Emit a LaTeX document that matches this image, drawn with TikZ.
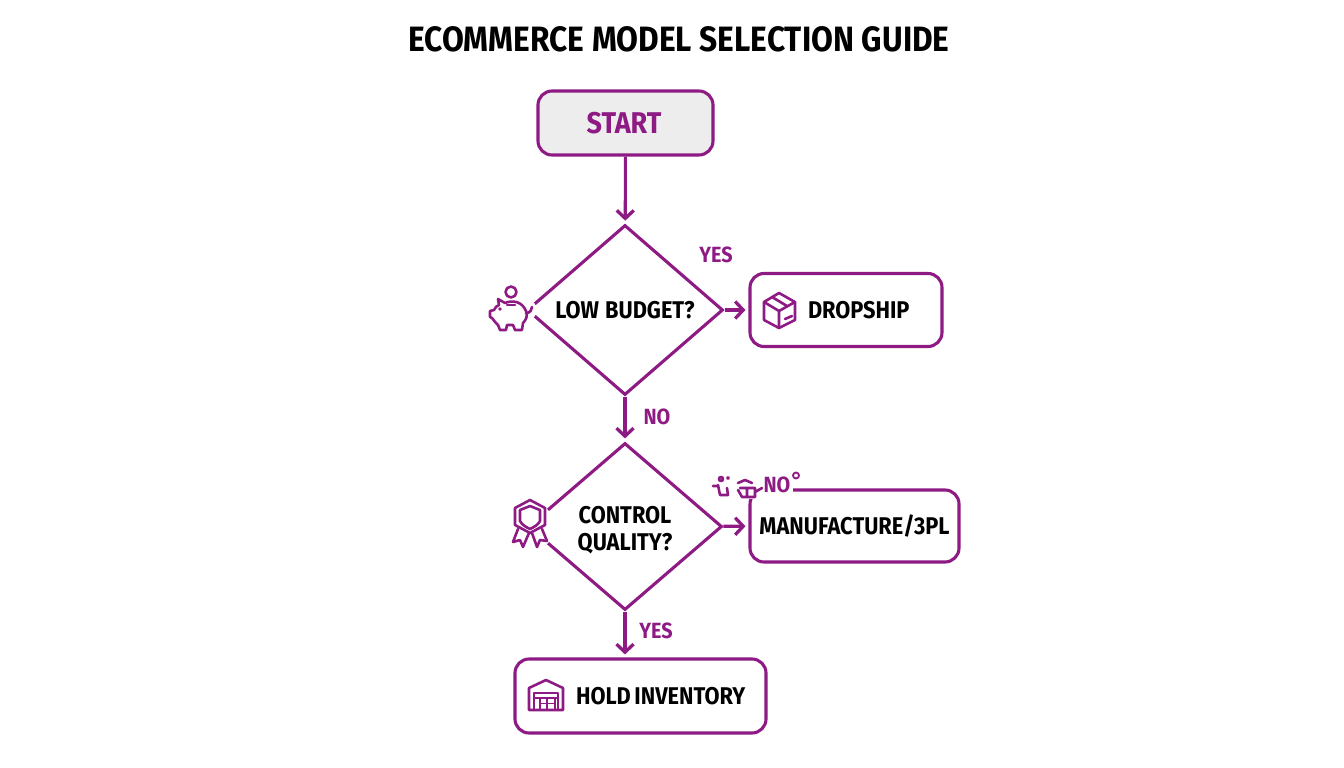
\documentclass[tikz,border=0pt]{standalone}
\usepackage{fontspec}
\usepackage{tikz}
\usetikzlibrary{positioning, calc}
\usetikzlibrary{shapes.geometric, arrows.meta}
\setmainfont[FakeStretch=0.9, WordSpace=0.7]{Fira Sans}
\definecolor{guidepurple}{HTML}{8E1A84}
\definecolor{startgray}{HTML}{EEEDEE}
\tikzset{
  boxnode/.style={draw=guidepurple, line width=3.1pt, rounded corners=14pt, inner sep=0pt, font=\labelfont, text=black},
  choicenode/.style={draw=guidepurple, diamond, aspect=1.15, line width=3.1pt, inner sep=0pt, font=\labelfont, text=black, align=center},
  flowarrow/.style={draw=guidepurple, line width=3.1pt, -{Straight Barb[length=8pt,width=17pt,line width=3.3pt]}, shorten >=3pt},
  answer/.style={text=guidepurple, font=\answerfont},
  iconline/.style={draw=guidepurple, line width=2.6pt, line join=round, line cap=round}
}
\newcommand{\labelfont}{\fontsize{24.2}{27}\selectfont\bfseries}
\newcommand{\answerfont}{\fontsize{22}{26}\selectfont\bfseries}
\begin{document}
\begin{tikzpicture}[x=1pt, y=-1pt]
    \useasboundingbox (0,0) rectangle (1344,768);
    \node (title) at (679,39) {\fontsize{35.2}{40}\selectfont\bfseries ECOMMERCE\hspace{2.5pt} MODEL\hspace{2.5pt} SELECTION\hspace{2.5pt} GUIDE};
    % boxes and decisions
    \node[boxnode, fill=startgray, text=guidepurple, minimum width=175pt, minimum height=64pt, font=\fontsize{30}{36}\selectfont\bfseries] (start) at (625.5,123) {\hspace*{-3pt}START};
    \node[choicenode, minimum width=196pt, minimum height=170pt] (lowbudget) at (625,310) {LOW\hspace{2.5pt} BUDGET?};
    \node[boxnode, minimum width=192pt, minimum height=73pt, text width=192pt, align=left] (dropship) at (846,310) {\hspace*{58pt}DROPSHIP};
    \node[choicenode, minimum width=194pt, minimum height=167pt] (quality) at (625,526.5) {\rule{0pt}{24pt}CONTROL\\QUALITY?};
    \node[boxnode, minimum width=209pt, minimum height=72pt] (manufacture) at (854.5,526) {MANUFACTURE/3PL};
    \node[boxnode, minimum width=251pt, minimum height=74pt, text width=251pt, align=left] (inventory) at (640.5,696) {\hspace*{61pt}\mbox{HOLD\hspace{-4.5pt} INVENTORY}};
    % connectors
    \draw[flowarrow] (start) -- (lowbudget);
    \draw[flowarrow] (lowbudget) -- (dropship);
    \draw[flowarrow] (lowbudget) -- (quality);
    \draw[flowarrow] (quality) -- (manufacture);
    \draw[flowarrow] (quality.south) -- (quality.south |- inventory.north);
    % gaps for the icons
    \fill[white] (527,310) circle (10pt);
    \fill[white] (528,526.5) circle (26pt);
    \fill[white] (744,484) rectangle (793,499);
    \node[answer] (yesa) at (716,255) {YES};
    \node[answer] (noa) at (657,417) {NO};
    \node[answer] (nob) at (777,485) {NO};
    \node[answer] (yesb) at (656,631) {YES};
    % piggy bank
    \draw[iconline] (511,292) circle (5.5pt);
    \draw[iconline] (498,299) -- (505,303) .. controls (512,300) and (522,301) .. (526,311) .. controls (528,316) and (526,320) .. (523,323) -- (522,330) -- (515,330) -- (513,325) -- (507,325) -- (506,330) -- (500,330) -- (498,325) .. controls (495,323) and (494,320) .. (492,318) -- (490,317) -- (490,311) -- (494,310) .. controls (495,307) and (497,306) .. (499,305) -- cycle;
    \draw[iconline] (526,313) .. controls (530,313) and (532,310) .. (532,307);
    \draw[iconline] (507,305) -- (515,305);
    \fill[guidepurple] (500,309) circle (1.8pt);
    % parcel
    \draw[iconline] (779,293) -- (795,302) -- (795,320) -- (779,328) -- (764,320) -- (764,302) -- cycle;
    \draw[iconline] (764,302) -- (779,311) -- (795,302) (779,311) -- (779,328);
    \draw[iconline] (772,297) -- (787,306) (785,319) -- (792,316);
    % medal
    \draw[iconline] (530,500) -- (545,508) -- (545,525) -- (530,533) -- (515,525) -- (515,508) -- cycle;
    \draw[iconline] (530,506) -- (540,510) -- (540,521) .. controls (538,525) and (534,527) .. (530,529) .. controls (526,527) and (522,525) .. (520,521) -- (520,510) -- cycle;
    \draw[iconline] (518,529) -- (513,542) -- (520,540) -- (523,547) -- (529,533);
    \draw[iconline] (542,529) -- (547,541) -- (540,540) -- (537,547) -- (532,533);
    % drone
    \draw[iconline] (713,486) -- (717,486) (718,485) -- (720,495) -- (728,495) -- (727,488);
    \draw[iconline] (721,479) circle (2pt) (728,478) circle (.8pt);
    \draw[iconline] (738,483) -- (745,480) -- (752,483) (740,488) -- (755,488) -- (755,497) -- (742,497) -- (738,490) (747,488) -- (747,496) (755,492) -- (762,488);
    \draw[iconline, line width=1.8pt] (796,475.5) circle (3pt);
    % warehouse
    \draw[iconline] (529,710) -- (529,688) -- (546,680) -- (563,688) -- (563,710) -- cycle;
    \draw[iconline] (534,710) -- (534,693) -- (558,693) -- (558,710) (534,698) -- (558,698);
    \draw[iconline, line width=1.8pt] (540,710) -- (540,698) (555,710) -- (555,698) (540,703.5) -- (555,703.5) (547,698) -- (547,710);
\end{tikzpicture}
\end{document}
